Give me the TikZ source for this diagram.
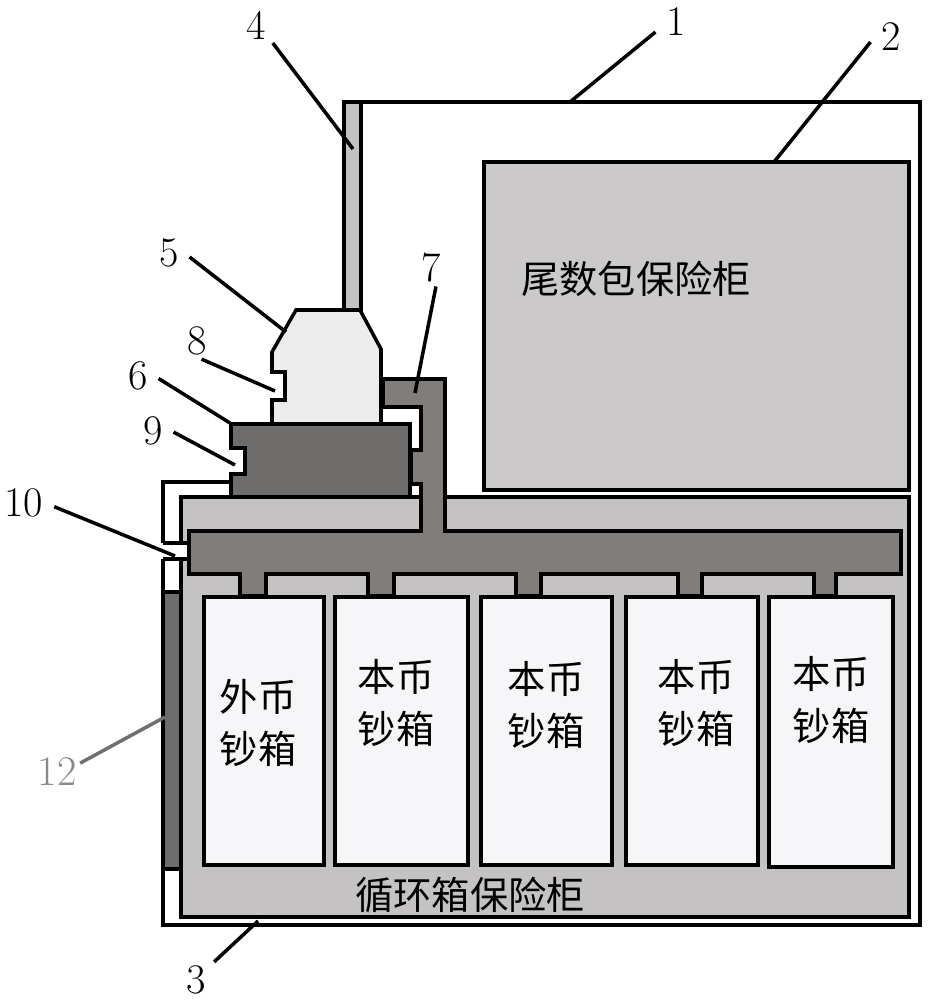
\documentclass[tikz,border=0pt]{standalone}
\usepackage{fontspec}
\newfontfamily\cjk{Noto Sans CJK SC}

\definecolor{cabgray}{HTML}{C4C2C2}
\definecolor{ductgray}{HTML}{807D7A}
\definecolor{baygray}{HTML}{6E6D6C}
\definecolor{tailgray}{HTML}{CBC9C9}
\definecolor{headgray}{HTML}{ECECEC}
\definecolor{boxwhite}{HTML}{F6F6F8}
\definecolor{leadgray}{HTML}{858C84}
\definecolor{leaddark}{HTML}{6F716F}

\tikzset{
	wall/.style={draw=black, line width=2pt, line join=miter},
	leader/.style={draw=black, line width=2pt},
	numlabel/.style={inner xsep=6pt, inner ysep=2pt, font=\fontsize{24}{24}\selectfont},
	cnlabel/.style={inner sep=0pt, align=center, font=\cjk\fontsize{21.8}{30}\selectfont}
}

\begin{document}
\begin{tikzpicture}[x=0.02cm, y=-0.02cm]

	\useasboundingbox (0,0) rectangle (932,1000);

	% outer frame
	\draw [wall, fill=white] (344,102) -- (920,102) -- (920,925) -- (163,925) -- (163,559);
	\draw [wall] (231,482) -- (163,482) -- (163,543);

	% cabinets
	\draw [wall, fill=cabgray] (181,497) rectangle (909,917);
	\fill [white] (170,545) rectangle (187,557);
	\draw [wall] (163,543) -- (189,543);
	\draw [wall] (163,559) -- (189,559);
	\draw [wall, fill=tailgray] (484,162) rectangle (909,490);
	\draw [wall, fill=baygray] (163,592) rectangle (181,869);
	\draw [wall, fill=cabgray] (344,102) rectangle (361,310);

	% duct
	\draw [wall, fill=ductgray] (383,379) -- (445,379) -- (445,531) -- (901,531) -- (901,574) -- (836,574) -- (836,596) -- (814,596) -- (814,574)
		-- (702,574) -- (702,596) -- (678,596) -- (678,574) -- (541,574) -- (541,596) -- (516,596) -- (516,574)
		-- (394,574) -- (394,596) -- (368,596) -- (368,574) -- (266,574) -- (266,596) -- (240,596) -- (240,574)
		-- (189,574) -- (189,531) -- (421,531) -- (421,484) -- (411,484) -- (411,450) -- (421,450) -- (421,407) -- (383,407) -- cycle;

	% bays
	\draw [wall, fill=baygray] (231,424) -- (410,424) -- (410,497) -- (231,497) -- (231,474) -- (245,474) -- (245,448) -- (231,448) -- cycle;
	\draw [wall, fill=headgray] (272,424) -- (272,400) -- (285,400) -- (285,372) -- (272,372) -- (272,352) -- (296,310) -- (360,310) -- (381,349) -- (381,424) -- cycle;

	% cash boxes
	\draw [wall, fill=boxwhite] (204,597) rectangle (324,865);
	\draw [wall, fill=boxwhite] (335,597) rectangle (468,865);
	\draw [wall, fill=boxwhite] (481,597) rectangle (612,865);
	\draw [wall, fill=boxwhite] (626,597) rectangle (758,865);
	\draw [wall, fill=boxwhite] (769,597) rectangle (893,867);

	\node [cnlabel] (tail) at (636,279) {尾数包保险柜};
	\node [cnlabel] (loop) at (470,895) {循环箱保险柜};
	\node [cnlabel] (box1) at (258,723) {外币\\钞箱};
	\node [cnlabel] (box2) at (396,703) {本币\\钞箱};
	\node [cnlabel] (box3) at (546,705) {本币\\钞箱};
	\node [cnlabel] (box4) at (696,703) {本币\\钞箱};
	\node [cnlabel] (box5) at (831,700) {本币\\钞箱};

	% numbers
	\node [numlabel] (n1) at (676,22) {1};
	\node [numlabel] (n2) at (891,37) {2};
	\node [numlabel] (n3) at (196,980) {3};
	\node [numlabel] (n4) at (256,25) {4};
	\node [numlabel] (n5) at (169,253) {5};
	\node [numlabel] (n6) at (138,376) {6};
	\node [numlabel] (n7) at (431,268) {7};
	\node [numlabel] (n8) at (197,341) {8};
	\node [numlabel] (n9) at (153,431) {9};
	\node [numlabel] (n10) at (24,503) {10};
	\node [numlabel, inner xsep=2pt, text=leadgray] (n12) at (57,772) {12};

	\coordinate (p1) at (570,102);
	\coordinate (p2) at (774,162);
	\coordinate (p3) at (258,921);
	\coordinate (p4) at (353,149);
	\coordinate (p5) at (286,332);
	\coordinate (p6) at (230,423);
	\coordinate (p7) at (415,393);
	\coordinate (p8) at (275,391);
	\coordinate (p9) at (235,465);
	\coordinate (p10) at (175,556);
	\coordinate (p12) at (165,717);

	\draw [leader] (n1.206) -- (p1);
	\draw [leader] (n2.194) -- (p2);
	\draw [leader] (n3.45) -- (p3);
	\draw [leader] (n4.313) -- (p4);
	\draw [leader] (n5.349) -- (p5);
	\draw [leader] (n6.353) -- (p6);
	\draw [leader] (n7.285) -- (p7);
	\draw [leader] (n8.284) -- (p8);
	\draw [leader] (n9.357) -- (p9);
	\draw [leader] (n10.353) -- (p10);
	\draw [leader, draw=leaddark] (n12.21) -- (p12);

\end{tikzpicture}
\end{document}
